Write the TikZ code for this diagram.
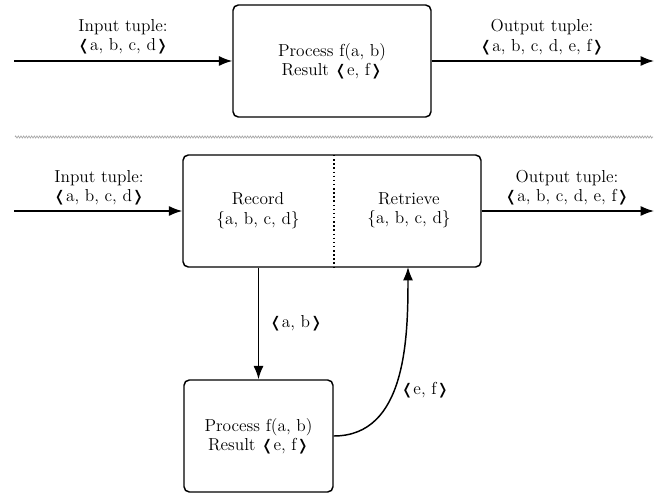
\documentclass[tikz,border=0pt]{standalone}
\usepackage{fontspec}
\newfontfamily\djv{DejaVu Sans}
\usetikzlibrary{arrows.meta,decorations.pathmorphing}
\newcommand{\lab}{{\djv\fontsize{11}{12}\selectfont ❬}}
\newcommand{\rab}{{\djv\fontsize{11}{12}\selectfont ❭}}
\tikzset{
  box/.style={draw,line width=1.1pt,rounded corners=4pt,inner sep=0pt},
  conn/.style={line width=1.1pt,-{Latex[length=10pt,width=7.5pt]}},
  lbl/.style={align=center,inner sep=0pt,font=\fontsize{13}{14.5}\selectfont},
}
\begin{document}
\begin{tikzpicture}[x=0.75pt,y=-0.75pt]
\useasboundingbox (0,0) rectangle (667,495);
% top
\node[box,minimum width=148.5pt,minimum height=84pt] (p1) at (332,61) {};
\node[lbl] (p1t) at (p1.center) {Process f(a, b)\\Result \lab e, f\rab};
\coordinate (in1) at (14,61);
\coordinate (out1) at (654,61);
\draw[conn] (in1) -- (p1.west);
\draw[conn] (p1.east) -- (out1);
\node[lbl] (il1) at (123,37) {Input tuple:\\\lab a, b, c, d\rab};
\node[lbl] (ol1) at (542,37) {Output tuple:\\\lab a, b, c, d, e, f\rab};
% separator
\coordinate (s1) at (15,137);
\coordinate (s2) at (653,137);
\draw[gray!70,line width=0.5pt,decorate,decoration={zigzag,amplitude=0.8pt,segment length=2pt}] (s1) -- (s2);
% bottom
\node[box,minimum width=223.5pt,minimum height=84pt] (rr) at (332,211) {};
\coordinate (dtop) at (334,155);
\coordinate (dbot) at (334,267);
\draw[line width=1.1pt,dotted] (dtop) -- (dbot);
\node[lbl] (rec) at (258,210.5) {Record\\\{a, b, c, d\}};
\node[lbl] (ret) at (409,210.5) {Retrieve\\\{a, b, c, d\}};
\coordinate (in2) at (14,211);
\coordinate (out2) at (654,211);
\draw[conn] (in2) -- (rr.west);
\draw[conn] (rr.east) -- (out2);
\node[lbl] (il2) at (99,187.5) {Input tuple:\\\lab a, b, c, d\rab};
\node[lbl] (ol2) at (567,187.5) {Output tuple:\\\lab a, b, c, d, e, f\rab};
\node[box,minimum width=111.75pt,minimum height=84pt] (p2) at (258.5,436) {};
\node[lbl] (p2t) at (p2.center) {Process f(a, b)\\Result \lab e, f\rab};
\coordinate (rtop) at (408,267);
\draw[conn] (rr.south -| p2.north) -- (p2.north);
\node[lbl] (ab) at (296,323) {\lab a, b\rab};
\draw[conn] (p2.east) to[out=0,in=-90] (rtop);
\node[lbl] (ef) at (425,390) {\lab e, f\rab};
\end{tikzpicture}
\end{document}
